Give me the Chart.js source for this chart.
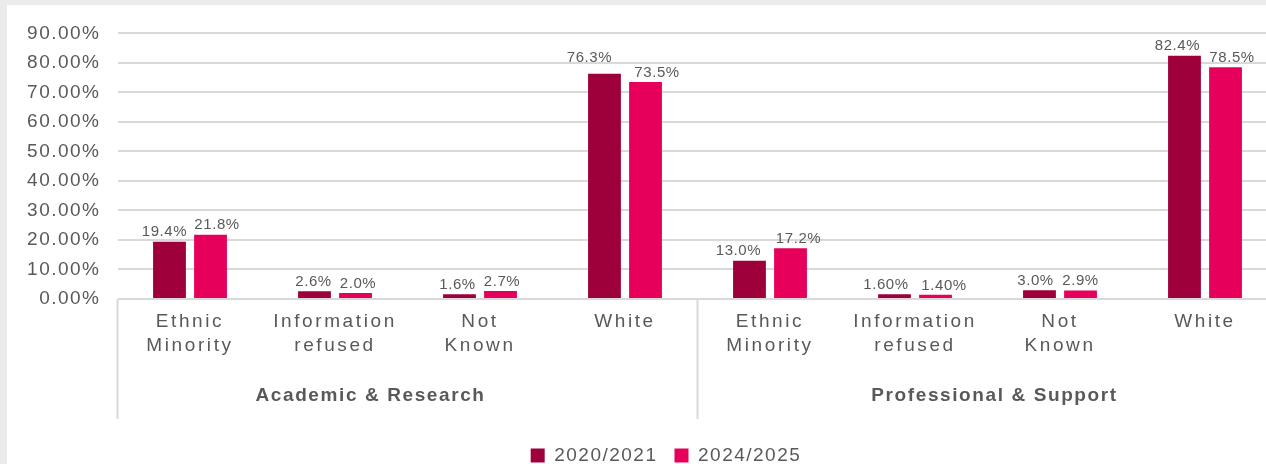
<!DOCTYPE html>
<html>
<head>
<meta charset="utf-8">
<script src="https://cdn.jsdelivr.net/npm/chart.js@4.4.0/dist/chart.umd.min.js"></script>
<style>
  html, body { margin: 0; padding: 0; background: #ebebeb; overflow: hidden; }
  #wrap { position: absolute; left: 7px; top: 5px; width: 1280px; height: 470px; background: #fff; }
</style>
</head>
<body>
<div id="wrap"><canvas id="chart" width="1280" height="470"></canvas></div>
<script>
// Data
const groups = ["Academic & Research", "Professional & Support"];
const groupSizes = [4, 4];
const categories = [
  ["Ethnic", "Minority"], ["Information", "refused"], ["Not", "Known"], ["White"],
  ["Ethnic", "Minority"], ["Information", "refused"], ["Not", "Known"], ["White"]
];
const seriesNames = ["2020/2021", "2024/2025"];
const values2020 = [19.4, 2.6, 1.6, 76.3, 13.0, 1.6, 3.0, 82.4];
const values2024 = [21.8, 2.0, 2.7, 73.5, 17.2, 1.4, 2.9, 78.5];
const labels2020 = ["19.4%", "2.6%", "1.6%", "76.3%", "13.0%", "1.60%", "3.0%", "82.4%"];
const labels2024 = ["21.8%", "2.0%", "2.7%", "73.5%", "17.2%", "1.40%", "2.9%", "78.5%"];
const yMax = 90;
const yStep = 10;

// label nudges as placed in the original (pixels)
const labelDx = [[-5, -1, -2, -15, -11, -8.5, -4, -7], [6.5, 2.5, 1.5, 11.5, 8, 8.5, 0, 6.5]];
const labelDy = [[0, 0, 0, -6, 0, 0, 0, 0], [0, 0, 0, 0, 0, 0, 0, 0]];

const TEXT = "#595959";
const GRID = "#d9d9d9";
const FONT = "'Liberation Sans', Arial, sans-serif";

// letter spacing on the canvas context (reset by resize, so set it often)
const spacingPlugin = {
  id: "spacing",
  beforeUpdate(chart) { chart.ctx.letterSpacing = "1.5px"; },
  beforeLayout(chart) { chart.ctx.letterSpacing = "1.5px"; },
  beforeDraw(chart) { chart.ctx.letterSpacing = "1.5px"; },
  afterLayout(chart) {
    // legend sits centred on the wider original frame
    chart.legend.left += 23.75;
    chart.legend.right += 23.75;
    const s = chart.scales.x;
    if (s && !s._spaced) {
      const orig = s.drawLabels.bind(s);
      s.drawLabels = function (area) {
        const prev = this.ctx.letterSpacing;
        this.ctx.letterSpacing = "2.6px";
        orig(area);
        this.ctx.letterSpacing = prev;
      };
      s._spaced = true;
    }
  }
};

// value labels above the bars
const barLabels = {
  id: "barLabels",
  afterDatasetsDraw(chart) {
    const ctx = chart.ctx;
    const texts = [labels2020, labels2024];
    ctx.save();
    ctx.font = "15px " + FONT;
    ctx.letterSpacing = "0.6px";
    ctx.fillStyle = TEXT;
    ctx.textAlign = "center";
    ctx.textBaseline = "bottom";
    chart.data.datasets.forEach((ds, i) => {
      chart.getDatasetMeta(i).data.forEach((bar, j) => {
        ctx.fillText(texts[i][j], bar.x + labelDx[i][j], bar.y - 2 + labelDy[i][j]);
      });
    });
    ctx.restore();
  }
};

// group dividers and group names under the category axis
const groupAxis = {
  id: "groupAxis",
  afterDraw(chart) {
    const x = chart.scales.x;
    const ctx = chart.ctx;
    const w = x.width / categories.length;
    const top = x.top;
    const bottom = x.top + 120;
    ctx.save();
    ctx.strokeStyle = GRID;
    ctx.lineWidth = 2;
    let start = 0;
    const edges = [x.getPixelForValue(0) - w / 2];
    groups.forEach((g, gi) => {
      const end = start + groupSizes[gi] - 1;
      edges.push(x.getPixelForValue(end) + w / 2);
      start = end + 1;
    });
    edges.forEach(px => {
      ctx.beginPath();
      ctx.moveTo(px, top);
      ctx.lineTo(px, bottom);
      ctx.stroke();
    });
    ctx.font = "bold 19px " + FONT;
    ctx.letterSpacing = "1.6px";
    ctx.fillStyle = TEXT;
    ctx.textAlign = "center";
    ctx.textBaseline = "middle";
    const shift = [-37, 7];
    groups.forEach((g, gi) => {
      const cx = (edges[gi] + edges[gi + 1]) / 2 + shift[gi];
      ctx.fillText(g, cx, top + 97);
    });
    ctx.restore();
  }
};

new Chart(document.getElementById("chart"), {
  type: "bar",
  data: {
    labels: categories,
    datasets: [
      { label: seriesNames[0], data: values2020, backgroundColor: "#9d003b" },
      { label: seriesNames[1], data: values2024, backgroundColor: "#e6005b" }
    ]
  },
  options: {
    responsive: false,
    animation: false,
    devicePixelRatio: 1,
    categoryPercentage: 0.566,
    barPercentage: 0.8,
    layout: { padding: { left: 0, right: 9.5, top: 28, bottom: 0 } },
    plugins: {
      tooltip: { enabled: false },
      legend: {
        position: "bottom",
        labels: {
          boxWidth: 14,
          boxHeight: 14,
          padding: 17,
          color: TEXT,
          font: { family: FONT, size: 19 }
        }
      }
    },
    scales: {
      x: {
        grid: { display: false },
        border: { display: false },
        ticks: {
          color: TEXT,
          font: { family: FONT, size: 19, lineHeight: 1.3 },
          padding: 2,
          maxRotation: 0,
          autoSkip: false
        },
        afterFit(s) { s.height = 130; }
      },
      y: {
        min: 0,
        max: yMax,
        grid: { color: GRID, lineWidth: 2, drawTicks: false },
        border: { display: false },
        ticks: {
          stepSize: yStep,
          color: TEXT,
          padding: 17,
          font: { family: FONT, size: 19 },
          callback: v => v.toFixed(2) + "%"
        },
        afterFit(s) { s.width = 110.5; }
      }
    }
  },
  plugins: [spacingPlugin, barLabels, groupAxis]
});
</script>
</body>
</html>
